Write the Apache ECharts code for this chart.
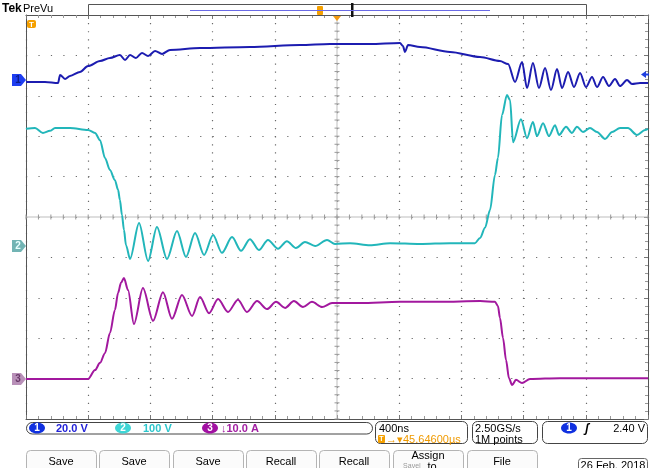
<!DOCTYPE html>
<html><head><meta charset="utf-8">
<script src="https://cdn.jsdelivr.net/npm/echarts/dist/echarts.min.js"></script>
<style>html,body{margin:0;padding:0;background:#fff}#c{width:665px;height:468px}</style>
</head><body><div id="c"></div>
<script>
// time in ns relative to trigger (400 ns/div)
const ch1Time = [-2000,-1878,-1794,-1781,-1749,-1717,-1653,-1601,-1524,-1460,-1396,-1363,-1331,-1293,-1254,-1215,-1170,-1125,-1074,-881,-560,-238,-45,212,405,424,437,457,534,727,920,1048,1100,1145,1190,1222,1260,1299,1338,1376,1415,1447,1486,1524,1563,1601,1640,1672,1711,1749,1788,1820,1865,1897,1949,2000];
const ch1Volts = [-1.0,-1.0,-1.5,2.5,0.5,2.0,4.0,6.9,9.4,10.9,12.4,9.9,12.4,10.9,13.4,11.9,14.4,12.9,14.9,15.8,16.3,17.3,17.8,17.8,18.3,16.8,13.9,17.3,16.3,13.9,11.4,9.4,7.9,-1.0,8.9,-4.0,8.4,-4.0,5.9,-5.0,5.4,-4.0,4.0,-3.5,3.5,-3.5,1.5,-3.5,1.5,-3.0,0.5,-3.0,0,-2.0,-1.5,-1.5];

const ch2Time = [-2000,-1942,-1891,-1846,-1813,-1717,-1601,-1556,-1524,-1492,-1460,-1428,-1408,-1396,-1383,-1370,-1357,-1331,-1273,-1215,-1158,-1093,-1029,-971,-913,-855,-797,-740,-675,-617,-560,-502,-444,-379,-322,-264,-206,-141,-64,-13,84,212,341,534,727,887,920,952,984,1016,1035,1061,1093,1113,1132,1183,1222,1260,1286,1325,1363,1402,1428,1473,1511,1543,1582,1627,1672,1724,1769,1820,1871,1929,1981,2000];
const ch2Volts = [290,292,280,285,292,292,287,280,262,218,188,163,139,114,77,40,2,-32,57,-37,47,-32,37,-27,32,-22,27,-17,22,-12,17,-10,15,-7,12,-5,10,0,15,5,7,2,7,5,7,7,20,45,89,176,218,324,374,361,257,314,267,307,272,304,272,299,275,295,280,295,282,292,282,265,282,292,292,275,287,290];

const ch3Time = [-2000,-1601,-1556,-1524,-1492,-1460,-1428,-1408,-1389,-1370,-1344,-1306,-1248,-1183,-1119,-1061,-997,-932,-881,-823,-765,-701,-637,-579,-514,-450,-392,-334,-277,-219,-161,-96,-32,148,405,662,920,1016,1035,1048,1068,1087,1106,1126,1151,1190,1241,1434,1691,2000];
const ch3Amps = [0,0,2.2,4.0,6.4,11.4,17.1,21.3,23.8,25.0,22.0,13.6,22.5,14.4,21.5,14.9,20.8,15.6,20.3,16.3,19.8,16.6,19.6,16.6,19.3,17.3,19.1,17.6,19.3,17.8,19.1,17.8,18.8,18.8,19.1,19.1,19.3,19.1,18.1,15.1,10.1,4.7,0.2,-1.5,-0.2,-1.0,0,0.2,0.2,0.2];

const buttonLabels = ['Save','Save','Save','Recall','Recall','Assign','File'];

// channel scale (units/div) and ground offset (div from screen centre)
const CH = [
  {scale:20, off:(217-80)/40.4},
  {scale:100, off:(217-246)/40.4},
  {scale:10, off:(217-379)/40.4}
];
function rng(c){return {min:(-5-c.off)*c.scale, max:(5-c.off)*c.scale};}
const zip=(a,b)=>a.map((v,i)=>[v,b[i]]);

const FONT='Liberation Sans, Arial, sans-serif';
const chart = echarts.init(document.getElementById('c'), null, {renderer:'canvas'});

const tickAxisX = (pos)=>({type:'value',min:-2000,max:2000,interval:400,position:pos,
  axisLine:{show:true,onZero:false,lineStyle:{color:'#555',width:1}},
  axisTick:{show:true,inside:true,length:4,lineStyle:{color:'#777'}},
  minorTick:{show:true,splitNumber:5,length:3,lineStyle:{color:'#999'}},
  axisLabel:{show:false}, splitLine:{show:pos==='bottom',lineStyle:{color:'#6a6a6a',width:1.2,type:[1.2,6.88]}}
});

function crossRender(params, api){
  const ch=[];
  const L=api.coord([-2000,0]), R=api.coord([2000,0]);
  const T=api.coord([0,5]), B=api.coord([0,-5]);
  const st={stroke:'#bdbdbd',lineWidth:1};
  const tk={stroke:'#999',lineWidth:1};
  ch.push({type:'line',shape:{x1:L[0],y1:L[1],x2:R[0],y2:R[1]},style:st});
  ch.push({type:'line',shape:{x1:T[0],y1:T[1],x2:B[0],y2:B[1]},style:st});
  for(let t=-2000;t<=2000;t+=80){const p=api.coord([t,0]);ch.push({type:'line',shape:{x1:p[0],y1:p[1]-2.5,x2:p[0],y2:p[1]+2.5},style:tk});}
  for(let k=0;k<=50;k++){const p=api.coord([0,-5+k*0.2]);ch.push({type:'line',shape:{x1:p[0]-2.5,y1:p[1],x2:p[0]+2.5,y2:p[1]},style:tk});}
  return {type:'group',children:ch};
}

const g=[];
function txt(t,x,y,fill,font,align){g.push({type:'text',z:100,style:{text:t,x:x,y:y,fill:fill,font:font,align:align||'left',verticalAlign:'middle'}});}
function rect(x,y,w,h,r,fill,stroke){g.push({type:'rect',z:90,shape:{x:x,y:y,width:w,height:h,r:r},style:{fill:fill||'none',stroke:stroke||null,lineWidth:1}});}
function pill(cx,cy,fill,label){g.push({type:'ellipse',z:95,shape:{cx:cx,cy:cy,rx:8,ry:5.5},style:{fill:fill}});txt(label,cx,cy+0.5,'#fff','bold 10px '+FONT,'center');}
function marker(y,fill,label,lc){g.push({type:'polygon',z:95,shape:{points:[[12,y-6],[21,y-6],[26,y],[21,y+6],[12,y+6]]},style:{fill:fill}});txt(label,18,y+0.5,lc,'bold 10px '+FONT,'center');}

// header
txt('Tek',2,9,'#000','bold 12px '+FONT);
txt('PreVu',23,9,'#000','11px '+FONT);
rect(88.5,4.5,498,11,0,'#fff','#555');
g.push({type:'line',z:92,shape:{x1:190,y1:10.5,x2:490,y2:10.5},style:{stroke:'#6a6ae6',lineWidth:1}});
rect(317,6,6,9,1,'#f5a000',null);
rect(351,3,2.5,14,0,'#111',null);
g.push({type:'polygon',z:95,shape:{points:[[333,16],[341,16],[337,21]]},style:{fill:'#f39a10'}});
// T marker in grid
rect(27,20,9,8,2,'#f5a000',null);
txt('T',31.5,24.5,'#fff','bold 8px '+FONT,'center');
// channel markers
marker(80,'#1e3ef0','1','#0b1c8a');
marker(246,'#72b4b4','2','#e8ffff');
marker(379,'#b890b8','3','#6a3a6a');
// trigger level arrow
g.push({type:'polygon',z:95,shape:{points:[[641,74.5],[646,71],[646,78]]},style:{fill:'#2040e0'}});
g.push({type:'line',z:95,shape:{x1:645,y1:74.5,x2:649,y2:74.5},style:{stroke:'#2040e0',lineWidth:2}});

// status bar
rect(26.5,422.5,346,11.5,6,'#fff','#444');
pill(37,428,'#1030e0','1'); txt('20.0 V',56,428.5,'#2323d8','bold 11px '+FONT);
pill(123,428,'#3fd6d6','2'); txt('100 V',143,428.5,'#2cc6cc','bold 11px '+FONT);
pill(210,428,'#a210a2','3'); txt('\u219310.0 A',221,428.5,'#a220a2','bold 11px '+FONT);
rect(375.5,421.5,92,22,5,'#fff','#444');
txt('400ns',379,429,'#000','11px '+FONT);
rect(378,435,7,8,1,'#f5a000',null); txt('T',381.5,439.5,'#fff','bold 7px '+FONT,'center');
txt('\u2192\u25BE45.64600\u00B5s',386,439.5,'#f09a00','11px '+FONT);
rect(472.5,421.5,65,22,5,'#fff','#444');
txt('2.50GS/s',475,429,'#000','11px '+FONT);
txt('1M points',475,439.5,'#000','11px '+FONT);
rect(542.5,421.5,105,22,5,'#fff','#444');
pill(569,428,'#1030e0','1');
txt('\u0283',587,428.5,'#000','italic bold 12px '+FONT,'center');
txt('2.40 V',645,429,'#000','11px '+FONT,'right');

// buttons
const bx=[26,99,173,246,319,393,467];
buttonLabels.forEach((b,i)=>{
  rect(bx[i]+0.5,450.5,70,24,4,'#fbfbfb','#b4b4b4');
  if(b==='Assign'){txt('Assign',bx[i]+35,456,'#000','11px '+FONT,'center');txt('Save|',bx[i]+19,466,'#999','7px '+FONT,'center');txt('to',bx[i]+39,466.5,'#000','11px '+FONT,'center');}
  else txt(b,bx[i]+35,461.5,'#000','11px '+FONT,'center');
});
rect(578.5,458.5,69,14,3,'#fff','#666');
txt('26 Feb. 2018',613,465.5,'#000','11px '+FONT,'center');

const r1=rng(CH[0]), r2=rng(CH[1]), r3=rng(CH[2]);
const lineS=(name,data,yi,color)=>({name:name,type:'line',xAxisIndex:0,yAxisIndex:yi,data:data,showSymbol:false,symbol:'none',
  smooth:0.3,smoothMonotone:'x',lineStyle:{color:color,width:2},z:10,animation:false});

chart.setOption({
  animation:false, backgroundColor:'#fff',
  grid:{left:26,top:15,width:622,height:404,show:false},
  xAxis:[tickAxisX('bottom'),tickAxisX('top')],
  yAxis:[
    {type:'value',min:-5,max:5,interval:1,position:'left',axisLine:{show:true,onZero:false,lineStyle:{color:'#555'}},axisTick:{show:false},axisLabel:{show:false},
     splitLine:{show:true,lineStyle:{color:'#6a6a6a',width:1.2,type:[1.2,11.24]}}},
    {type:'value',min:-5,max:5,interval:1,position:'right',axisLine:{show:true,onZero:false,lineStyle:{color:'#555'}},
     axisTick:{show:true,inside:true,length:4,lineStyle:{color:'#777'}},minorTick:{show:true,splitNumber:5,length:3,lineStyle:{color:'#999'}},axisLabel:{show:false},splitLine:{show:false}},
    {type:'value',min:r1.min,max:r1.max,show:false},
    {type:'value',min:r2.min,max:r2.max,show:false},
    {type:'value',min:r3.min,max:r3.max,show:false}
  ],
  series:[
    {type:'custom',xAxisIndex:0,yAxisIndex:0,data:[[0,0]],renderItem:crossRender,z:2,silent:true},
    lineS('CH1',zip(ch1Time,ch1Volts),2,'#1c1cb0'),
    lineS('CH2',zip(ch2Time,ch2Volts),3,'#22b6ba'),
    lineS('CH3',zip(ch3Time,ch3Amps),4,'#a2189e')
  ],
  graphic:g
});
</script></body></html>
